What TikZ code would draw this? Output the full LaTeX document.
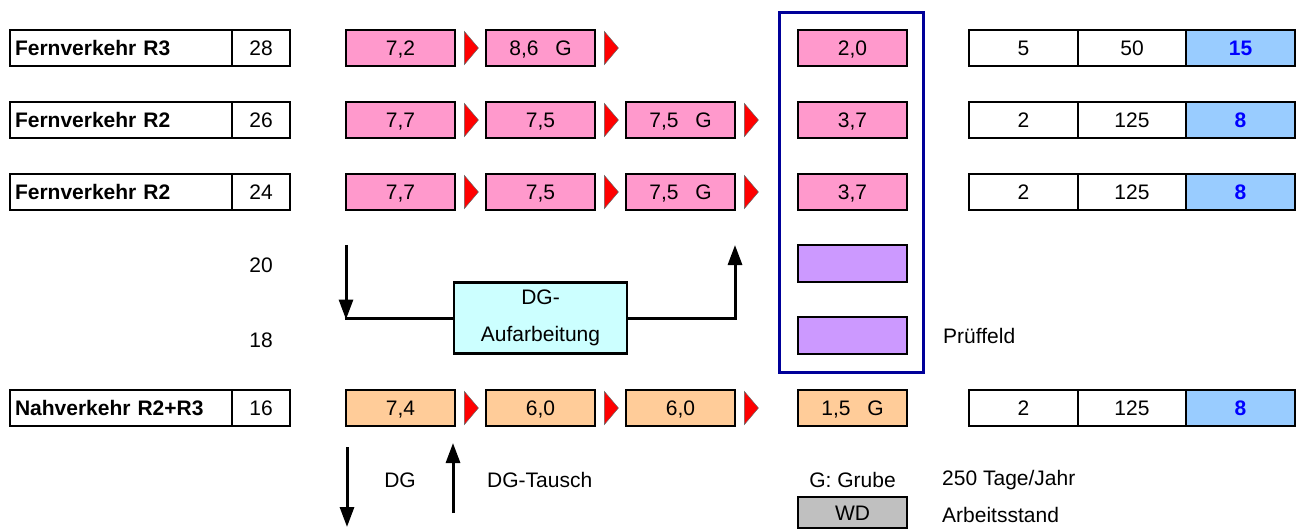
\documentclass[tikz,border=0pt]{standalone}
\usepackage{fontspec}
\setmainfont{Liberation Sans}
\usetikzlibrary{arrows.meta}
\definecolor{pinkc}{HTML}{FF99CC}
\definecolor{orangec}{HTML}{FFCC99}
\definecolor{bluec}{HTML}{99CCFF}
\definecolor{purplec}{HTML}{CC99FF}
\definecolor{cyanc}{HTML}{CCFFFF}
\definecolor{grayc}{HTML}{C0C0C0}
\definecolor{navyc}{HTML}{000099}
\definecolor{bluetext}{HTML}{0000FF}
\tikzset{
  box/.style={draw=black, line width=2.8pt, inner sep=0pt, minimum height=36pt, minimum width=109pt, anchor=center},
  cell/.style={box, text height=15pt, text depth=0pt},
  pinkbox/.style={cell, fill=pinkc},
  orangebox/.style={cell, fill=orangec},
  purplebox/.style={box, fill=purplec, minimum height=37pt},
  whitebox/.style={cell, fill=white},
  bluebox/.style={cell, fill=bluec, text=bluetext, font=\fontsize{21}{25}\selectfont\bfseries},
  labelbox/.style={cell, fill=white, minimum width=222pt, text width=212pt, inner xsep=5pt, align=left, font=\fontsize{21}{25}\selectfont\bfseries},
  numbox/.style={cell, fill=white, minimum width=58pt},
  plain/.style={inner sep=0pt},
  tri/.style={fill=red, draw=black!60, line width=0.5pt},
  flow/.style={line width=3pt, draw=black},
  arr/.style={flow, -{Triangle[length=20pt,width=14pt]}},
}
\newcommand{\tria}[1]{\path[tri] ([xshift=8pt,yshift=16.5pt]#1.east) -- ++(14pt,-16.5pt) -- ++(-14pt,-16.5pt) -- cycle;}
\begin{document}
\begin{tikzpicture}[x=1pt,y=-1pt, every node/.style={font=\fontsize{21}{25}\selectfont}]
\useasboundingbox (0,0) rectangle (1300,529);
% blue frame
\draw[navyc, line width=3pt] (779,13) rectangle (923,372);
% Row 1
\node[labelbox] (l1) at (121,48) {Fernverkehr R3};
\node[numbox] (n1) at (261,48) {28};
\node[pinkbox] (a1) at (400.5,48) {7,2};
\node[pinkbox] (b1) at (540.5,48) {8,6\hspace{0.8em}G};
\node[pinkbox] (d1) at (852.5,48) {2,0};
\node[whitebox] (t1a) at (1023.5,48) {5};
\node[whitebox, minimum width=108pt] (t1b) at (1132,48) {50};
\node[bluebox] (t1c) at (1240.5,48) {15};
\tria{a1}\tria{b1}
% Row 2
\node[labelbox] (l2) at (121,120) {Fernverkehr R2};
\node[numbox] (n2) at (261,120) {26};
\node[pinkbox] (a2) at (400.5,120) {7,7};
\node[pinkbox] (b2) at (540.5,120) {7,5};
\node[pinkbox] (c2) at (680.5,120) {7,5\hspace{0.8em}G};
\node[pinkbox] (d2) at (852.5,120) {3,7};
\node[whitebox] (t2a) at (1023.5,120) {2};
\node[whitebox, minimum width=108pt] (t2b) at (1132,120) {125};
\node[bluebox] (t2c) at (1240.5,120) {8};
\tria{a2}\tria{b2}\tria{c2}
% Row 3
\node[labelbox] (l3) at (121,192) {Fernverkehr R2};
\node[numbox] (n3) at (261,192) {24};
\node[pinkbox] (a3) at (400.5,192) {7,7};
\node[pinkbox] (b3) at (540.5,192) {7,5};
\node[pinkbox] (c3) at (680.5,192) {7,5\hspace{0.8em}G};
\node[pinkbox] (d3) at (852.5,192) {3,7};
\node[whitebox] (t3a) at (1023.5,192) {2};
\node[whitebox, minimum width=108pt] (t3b) at (1132,192) {125};
\node[bluebox] (t3c) at (1240.5,192) {8};
\tria{a3}\tria{b3}\tria{c3}
% Rows 20 / 18
\node[plain] (n20) at (261,265) {20};
\node[plain] (n18) at (261,340) {18};
\node[purplebox] (p1) at (852.5,263.5) {};
\node[purplebox] (p2) at (852.5,335.5) {};
\node[plain, anchor=west] (pf) at (943,336) {Prüffeld};
\node[box, fill=cyanc, minimum width=173pt, minimum height=71pt, align=center] (dg) at (540.5,318) {DG-\\[12pt]Aufarbeitung};
\coordinate (dtop) at (346,245);
\coordinate (dbot) at (346,318);
\coordinate (ubot) at (735,318);
\coordinate (utop) at (735,245);
\draw[arr] (dtop) -- ([yshift=-1.5pt]dbot);
\draw[flow] ([xshift=-1.5pt]dbot) -- (dg.west);
\draw[flow] (dg.east) -- ([xshift=1.5pt]ubot);
\draw[arr] ([yshift=1.5pt]ubot) -- (utop);
% Row 4
\node[labelbox] (l4) at (121,408) {Nahverkehr R2+R3};
\node[numbox] (n4) at (261,408) {16};
\node[orangebox] (a4) at (400.5,408) {7,4};
\node[orangebox] (b4) at (540.5,408) {6,0};
\node[orangebox] (c4) at (680.5,408) {6,0};
\node[orangebox] (d4) at (852.5,408) {1,5\hspace{0.8em}G};
\node[whitebox] (t4a) at (1023.5,408) {2};
\node[whitebox, minimum width=108pt] (t4b) at (1132,408) {125};
\node[bluebox] (t4c) at (1240.5,408) {8};
\tria{a4}\tria{b4}\tria{c4}
% bottom legend
\coordinate (dgtop) at (347,447);
\coordinate (dgbot) at (347,527);
\coordinate (tbot) at (453,513);
\coordinate (ttop) at (453,443);
\draw[arr] (dgtop) -- (dgbot);
\draw[arr] (tbot) -- (ttop);
\node[plain] (dgl) at (400,480) {DG};
\node[plain, anchor=west] (dgt) at (487,480) {DG-Tausch};
\node[plain] (gg) at (852.5,480) {G: Grube};
\node[plain, anchor=west] (tage) at (942,480) {250 Tage/Jahr};
\node[cell, fill=grayc, minimum height=31pt] (wd) at (852.5,512.5) {WD};
\node[plain, anchor=west] (arb) at (942,515) {Arbeitsstand};
\end{tikzpicture}
\end{document}
